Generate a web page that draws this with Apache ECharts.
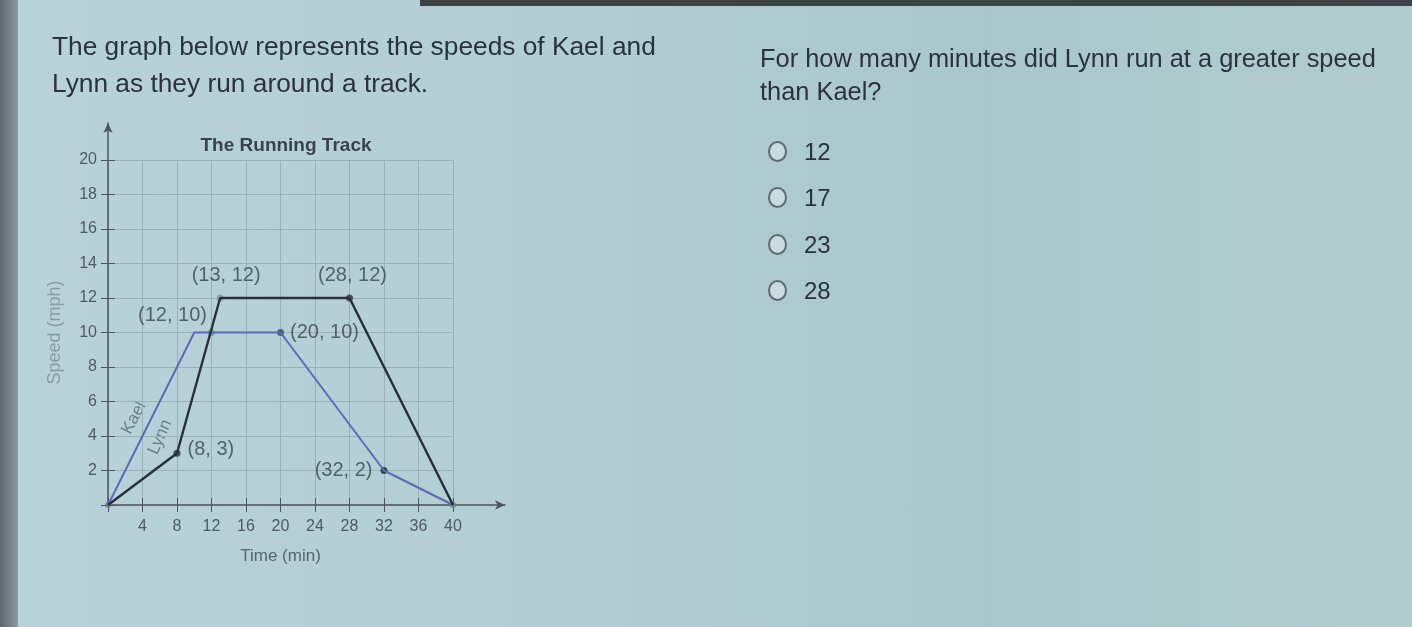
<!DOCTYPE html>
<html lang="en">
<head>
    <meta charset="UTF-8">
    <title>The Running Track</title>
    <script src="https://cdn.jsdelivr.net/npm/echarts@6.0.0/dist/echarts.min.js"></script>
    <style>
        html, body {
            margin: 0;
            padding: 0;
            width: 1412px;
            height: 627px;
            overflow: hidden;
            font-family: 'Liberation Sans', Arial, sans-serif;
            color: #2a333d;
            background: linear-gradient(90deg, #b9d2da 0%, #b4ced5 35%, #a9c7cb 70%, #b1cccf 100%);
        }
        .edge-left {
            position: absolute; left: 0; top: 0; width: 18px; height: 627px;
            background: linear-gradient(90deg, #5e676b, #8c999d);
        }
        .edge-top {
            position: absolute; left: 420px; top: 0; width: 992px; height: 6px;
            background: #3c4347;
        }
        #chart {
            position: absolute; left: 0; top: 0; width: 1412px; height: 627px;
        }
        .txt {
            position: absolute;
            white-space: nowrap;
        }
        .choice {
            position: absolute;
            left: 768px;
            font-size: 24px;
            white-space: nowrap;
        }
        .choice span.dot {
            display: inline-block;
            width: 15px; height: 17px;
            border: 2px solid #5f6a72;
            border-radius: 50%;
            vertical-align: middle;
            margin-right: 17px;
            margin-top: -4px;
            background: #c8dcdf;
        }
    </style>
</head>
<body>
    <div class="edge-left"></div>
    <div class="edge-top"></div>
    <div id="chart"></div>
    <div class="txt" style="left:52px; top:28px; font-size:26.3px; line-height:37px;">The graph below represents the speeds of Kael and<br>Lynn as they run around a track.</div>
    <div class="txt" style="left:760px; top:42px; font-size:25.4px; line-height:33px;">For how many minutes did Lynn run at a greater speed<br>than Kael?</div>
    <div id="choices"></div>

    <script>
        // data
        const kaelTime = [0, 10, 20, 32, 40];
        const kaelSpeed = [0, 10, 10, 2, 0];
        const lynnTime = [0, 8, 13, 28, 40];
        const lynnSpeed = [0, 3, 12, 12, 0];

        const markTime = [8, 12, 13, 28, 20, 32];
        const markSpeed = [3, 10, 12, 12, 10, 2];
        const markText = ['(8, 3)', '(12, 10)', '(13, 12)', '(28, 12)', '(20, 10)', '(32, 2)'];

        const xTicks = [4, 8, 12, 16, 20, 24, 28, 32, 36, 40];
        const yTicks = [2, 4, 6, 8, 10, 12, 14, 16, 18, 20];
        const answers = ['12', '17', '23', '28'];

        // answer choices
        const box = document.getElementById('choices');
        answers.forEach((a, i) => {
            const d = document.createElement('div');
            d.className = 'choice';
            d.style.top = (138 + i * 46.3) + 'px';
            d.innerHTML = '<span class="dot"></span>' + a;
            box.appendChild(d);
        });

        const pair = (xs, ys) => xs.map((x, i) => [x, ys[i]]);

        // label placement for each marked point (pixel offsets)
        const labelPlace = [
            { position: 'right', offset: [2, -4] },
            { position: 'left', offset: [4, -17] },
            { position: 'top', offset: [6, -4] },
            { position: 'top', offset: [3, -4] },
            { position: 'right', offset: [1, 0] },
            { position: 'left', offset: [-3, 0] }
        ];
        const markColor = ['#26303a', '#7f9a92', '#7f9a92', '#26303a', '#3a4552', '#1e2630'];

        const chart = echarts.init(document.getElementById('chart'));
        const labelFont = { color: '#4f5962', fontSize: 16, fontFamily: 'Liberation Sans, Arial' };

        const option = {
            animation: false,
            grid: [
                { left: 108, top: 160, width: 345, height: 345 },
                { left: 108, top: 123, width: 397, height: 382 }
            ],
            xAxis: [
                {
                    gridIndex: 0, type: 'value', min: 0, max: 40, interval: 4, position: 'bottom',
                    axisLine: { show: false },
                    axisTick: { show: true, length: 7, lineStyle: { color: '#4a5560' } },
                    axisLabel: Object.assign({ margin: 14, formatter: v => xTicks.includes(v) ? v : '' }, labelFont),
                    splitLine: { show: true, lineStyle: { color: '#9bb1b7', width: 1 } },
                    name: 'Time (min)', nameLocation: 'middle', nameGap: 43,
                    nameTextStyle: { color: '#5a646d', fontSize: 17 }
                },
                {
                    gridIndex: 0, type: 'value', min: 0, max: 40, interval: 4, position: 'bottom',
                    axisLine: { show: false },
                    axisTick: { show: true, inside: true, length: 7, lineStyle: { color: '#4a5560' } },
                    axisLabel: { show: false },
                    splitLine: { show: false }
                },
                {
                    gridIndex: 1, type: 'value', min: 0, max: 46,
                    axisLine: { show: true, symbol: ['none', 'arrow'], symbolSize: [7, 10], lineStyle: { color: '#4a5560', width: 1.5 } },
                    axisTick: { show: false }, axisLabel: { show: false }, splitLine: { show: false }
                }
            ],
            yAxis: [
                {
                    gridIndex: 0, type: 'value', min: 0, max: 20, interval: 2, position: 'left',
                    axisLine: { show: false },
                    axisTick: { show: true, length: 7, lineStyle: { color: '#4a5560' } },
                    axisLabel: Object.assign({ margin: 11, formatter: v => yTicks.includes(v) ? v : '' }, labelFont),
                    splitLine: { show: true, lineStyle: { color: '#9bb1b7', width: 1 } },
                    name: 'Speed (mph)', nameLocation: 'middle', nameGap: 44, nameRotate: 90,
                    nameTextStyle: { color: '#8c9ba2', fontSize: 18 }
                },
                {
                    gridIndex: 0, type: 'value', min: 0, max: 20, interval: 2, position: 'left',
                    axisLine: { show: false },
                    axisTick: { show: true, inside: true, length: 7, lineStyle: { color: '#4a5560' } },
                    axisLabel: { show: false },
                    splitLine: { show: false }
                },
                {
                    gridIndex: 1, type: 'value', min: 0, max: 22,
                    axisLine: { show: true, symbol: ['none', 'arrow'], symbolSize: [7, 10], lineStyle: { color: '#4a5560', width: 1.5 } },
                    axisTick: { show: false }, axisLabel: { show: false }, splitLine: { show: false }
                }
            ],
            graphic: [
                {
                    type: 'text', x: 286, y: 146,
                    style: { text: 'The Running Track', fill: '#3a434c', font: 'bold 19px Liberation Sans, Arial', align: 'center', verticalAlign: 'middle' }
                },
                {
                    type: 'text', x: 134, y: 418, rotation: Math.PI * 62 / 180,
                    style: { text: 'Kael', fill: '#6f7e8c', font: '17px Liberation Sans, Arial', align: 'center', verticalAlign: 'middle' }
                },
                {
                    type: 'text', x: 160, y: 437, rotation: Math.PI * 66 / 180,
                    style: { text: 'Lynn', fill: '#6f7e8c', font: '17px Liberation Sans, Arial', align: 'center', verticalAlign: 'middle' }
                }
            ],
            series: [
                {
                    name: 'Kael', type: 'line', xAxisIndex: 0, yAxisIndex: 0,
                    data: pair(kaelTime, kaelSpeed),
                    showSymbol: false,
                    lineStyle: { color: '#5b6cb2', width: 2 }
                },
                {
                    name: 'Lynn', type: 'line', xAxisIndex: 0, yAxisIndex: 0,
                    data: pair(lynnTime, lynnSpeed),
                    showSymbol: false,
                    lineStyle: { color: '#27303a', width: 2.4 }
                },
                {
                    type: 'scatter', xAxisIndex: 0, yAxisIndex: 0,
                    symbolSize: 7,
                    data: pair(markTime, markSpeed).map((p, i) => ({
                        value: p,
                        itemStyle: { color: markColor[i] },
                        label: Object.assign({
                            show: true, formatter: markText[i],
                            color: '#3b4550', fontSize: 20, fontFamily: 'Liberation Sans, Arial'
                        }, labelPlace[i])
                    }))
                },
                {
                    type: 'scatter', xAxisIndex: 0, yAxisIndex: 0,
                    symbolSize: 6,
                    itemStyle: { color: '#6a7a86' },
                    data: [[0, 0], [40, 0]]
                }
            ]
        };
        chart.setOption(option);
    </script>
</body>
</html>
